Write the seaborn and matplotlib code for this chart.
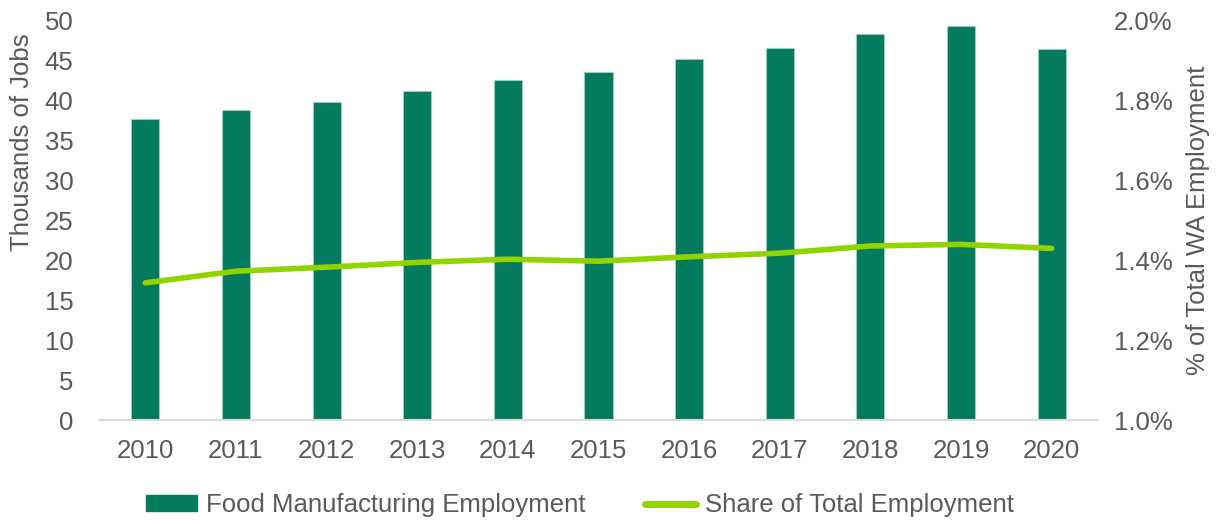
import matplotlib
matplotlib.use("Agg")
import matplotlib.pyplot as plt
import seaborn as sns
import numpy as np
import pandas as pd
from matplotlib.patches import Patch
from matplotlib.lines import Line2D
from matplotlib.ticker import FuncFormatter

years = ["2010", "2011", "2012", "2013", "2014", "2015", "2016", "2017", "2018", "2019", "2020"]
employment = [37.6, 38.8, 39.8, 41.1, 42.5, 43.5, 45.1, 46.5, 48.3, 49.25, 46.4]
share_pct = [1.343, 1.372, 1.382, 1.394, 1.402, 1.397, 1.408, 1.417, 1.435, 1.439, 1.429]

bar_color = "#047A5E"
line_color = "#92D400"
text_color = "#595959"
fs = 18.5

sns.set_theme(style="white")
plt.rcParams['font.family'] = ['Liberation Sans', 'DejaVu Sans']

df = pd.DataFrame({"year": years, "emp": employment, "share": share_pct})

fig = plt.figure(figsize=(12.25, 5.25), dpi=100)
ax = fig.add_axes([100/1225, 1 - 420/525, 997/1225, 400/525])

sns.barplot(data=df, x="year", y="emp", color=bar_color, width=0.31, ax=ax,
            saturation=1, edgecolor="#9FD3C2", linewidth=0.6)
ax.set_ylim(0, 50)
ax.set_yticks(range(0, 51, 5))
ax.set_xlim(-0.5, len(years) - 0.5)
ax.set_xlabel("")
ax.set_ylabel("Thousands of Jobs", fontsize=fs, color=text_color)
ax.yaxis.set_label_coords(-0.066, 0.695)
ax.tick_params(axis="both", labelsize=fs, colors=text_color, length=0)
ax.tick_params(axis="x", pad=14)
ax.tick_params(axis="y", pad=19)
for s in ["top", "right", "left"]:
    ax.spines[s].set_visible(False)
ax.spines["bottom"].set_color("#D9D9D9")
ax.spines["bottom"].set_linewidth(1.5)

ax2 = ax.twinx()
sns.lineplot(x=np.arange(len(years)), y=df["share"], ax=ax2, color=line_color,
             linewidth=4, solid_capstyle="round")
ax2.set_ylim(1.0, 2.0)
ax2.set_yticks([1.0, 1.2, 1.4, 1.6, 1.8, 2.0])
ax2.yaxis.set_major_formatter(FuncFormatter(lambda v, p: f"{v:.1f}%"))
ax2.set_ylabel("% of Total WA Employment", fontsize=fs, color=text_color, labelpad=10)
ax2.tick_params(axis="y", labelsize=fs, colors=text_color, length=0, pad=12)
for s in ["top", "right", "left", "bottom"]:
    ax2.spines[s].set_visible(False)
ax2.set_xlim(-0.5, len(years) - 0.5)

handles = [Patch(facecolor=bar_color, edgecolor=bar_color),
           Line2D([0], [0], color=line_color, linewidth=5, solid_capstyle="round")]
labels = ["Food Manufacturing Employment", "Share of Total Employment"]
fig.legend(handles, labels, loc="center", bbox_to_anchor=(580/1225, 1 - 505/525),
           ncol=2, frameon=False, fontsize=fs, labelcolor=text_color,
           handlelength=2.0, handleheight=0.55, columnspacing=2.3, handletextpad=0.35)

fig.savefig("out.png", dpi=100)
